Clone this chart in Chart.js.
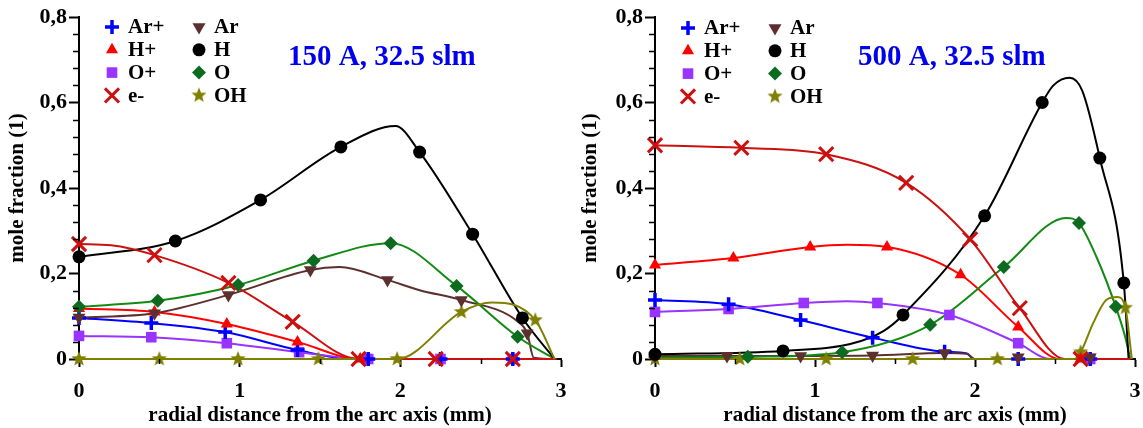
<!DOCTYPE html>
<html>
<head>
<meta charset="utf-8">
<script src="https://cdn.jsdelivr.net/npm/chart.js@4.4.0/dist/chart.umd.min.js"></script>
<style>
  html, body { margin: 0; padding: 0; background: #fff; }
  #wrap { position: relative; width: 1143px; height: 428px; overflow: hidden; }
  canvas { position: absolute; top: 0; }
  #c150 { left: 0; }
  #c500 { left: 571px; }
</style>
</head>
<body>
<div id="wrap">
  <canvas id="c150" width="571" height="428"></canvas>
  <canvas id="c500" width="572" height="428"></canvas>
</div>
<script>
// ---- axis ticks ----
const xTicks = [0, 1, 2, 3];
const xMinorTicks = [0.5, 1.5, 2.5];
const yTicks = [0, 0.2, 0.4, 0.6, 0.8];
const yMinorTicks = [0.04, 0.08, 0.12, 0.16, 0.24, 0.28, 0.32, 0.36, 0.44, 0.48, 0.52, 0.56, 0.64, 0.68, 0.72, 0.76];

const speciesNames = ['Ar+', 'H+', 'O+', 'e-', 'Ar', 'H', 'O', 'OH'];

// ---- 150 A, 32.5 slm : [radial distance (mm), mole fraction] ----
const arIonLine150 = [[0,0.096],[0.45,0.084],[0.91,0.063],[1.36,0.021],[1.7,0],[2.97,0]];
const arIonMarks150 = [[0,0.096],[0.45,0.084],[0.91,0.063],[1.36,0.021],[1.8,0],[2.25,0],[2.7,0]];
const hIonLine150 = [[0,0.118],[0.47,0.11],[0.92,0.082],[1.36,0.04],[1.75,0],[2.97,0]];
const hIonMarks150 = [[0,0.118],[0.47,0.11],[0.92,0.082],[1.36,0.04],[1.75,0]];
const oIonLine150 = [[0,0.054],[0.45,0.051],[0.92,0.037],[1.37,0.016],[1.8,0],[2.97,0]];
const oIonMarks150 = [[0,0.054],[0.45,0.051],[0.92,0.037],[1.37,0.016],[1.8,0],[2.25,0],[2.7,0]];
const elecLine150 = [[0,0.269],[0.2,0.266],[0.47,0.243],[0.93,0.178],[1.33,0.087],[1.74,0],[2.97,0]];
const elecMarks150 = [[0,0.269],[0.47,0.243],[0.93,0.178],[1.33,0.087],[1.74,0],[2.22,0],[2.7,0]];
const arLine150 = [[0,0.097],[0.47,0.107],[0.93,0.15],[1.44,0.208],[1.62,0.215],[1.92,0.185],[2.12,0.161],[2.38,0.138],[2.73,0.088],[2.79,0.06],[2.83,0.003],[2.97,0]];
const arMarks150 = [[0,0.097],[0.47,0.107],[0.93,0.15],[1.44,0.208],[1.92,0.185],[2.38,0.138],[2.79,0.06]];
const hLine150 = [[0,0.239],[0.6,0.276],[1.13,0.372],[1.63,0.496],[1.97,0.545],[2.12,0.484],[2.45,0.292],[2.76,0.096],[2.96,0]];
const hMarks150 = [[0,0.239],[0.6,0.276],[1.13,0.372],[1.63,0.496],[2.12,0.484],[2.45,0.292],[2.76,0.096]];
const oLine150 = [[0,0.122],[0.49,0.136],[0.99,0.173],[1.46,0.23],[1.94,0.271],[2.35,0.171],[2.73,0.052],[2.96,0]];
const oMarks150 = [[0,0.122],[0.49,0.136],[0.99,0.173],[1.46,0.23],[1.94,0.271],[2.35,0.171],[2.73,0.052]];
const ohLine150 = [[0,0],[1.98,0],[2.38,0.11],[2.57,0.132],[2.84,0.091],[2.96,0]];
const ohMarks150 = [[0,0],[0.5,0],[0.99,0],[1.49,0],[1.98,0],[2.38,0.11],[2.84,0.091]];

// ---- 500 A, 32.5 slm ----
const arIonLine500 = [[0,0.138],[0.46,0.128],[0.91,0.091],[1.36,0.05],[1.81,0.017],[1.95,0.013],[1.99,0],[2.97,0]];
const arIonMarks500 = [[0,0.138],[0.46,0.128],[0.91,0.091],[1.36,0.05],[1.81,0.017],[2.27,0],[2.72,0]];
const hIonLine500 = [[0,0.22],[0.49,0.236],[0.97,0.262],[1.2,0.267],[1.45,0.262],[1.91,0.197],[2.27,0.075],[2.53,0],[2.97,0]];
const hIonMarks500 = [[0,0.22],[0.49,0.236],[0.97,0.262],[1.45,0.262],[1.91,0.197],[2.27,0.075],[2.66,0]];
const oIonLine500 = [[0,0.11],[0.46,0.117],[0.93,0.131],[1.2,0.135],[1.39,0.131],[1.84,0.103],[2.27,0.037],[2.47,0],[2.97,0]];
const oIonMarks500 = [[0,0.11],[0.46,0.117],[0.93,0.131],[1.39,0.131],[1.84,0.103],[2.27,0.037],[2.72,0]];
const elecLine500 = [[0,0.5],[0.54,0.494],[1.07,0.479],[1.57,0.412],[1.97,0.28],[2.28,0.119],[2.56,0],[2.97,0]];
const elecMarks500 = [[0,0.5],[0.54,0.494],[1.07,0.479],[1.57,0.412],[1.97,0.28],[2.28,0.119],[2.66,0]];
const arLine500 = [[0,0.007],[0.91,0.007],[1.36,0.008],[1.81,0.014],[1.95,0.012],[2.0,0],[2.97,0]];
const arMarks500 = [[0,0.007],[0.45,0.007],[0.91,0.007],[1.36,0.008],[1.81,0.014],[2.27,0.004],[2.72,0.004]];
const hLine500 = [[0,0.011],[0.8,0.019],[1.22,0.035],[1.43,0.066],[1.55,0.103],[2.06,0.335],[2.42,0.6],[2.49,0.64],[2.59,0.658],[2.67,0.628],[2.78,0.47],[2.93,0.178],[2.96,0]];
const hMarks500 = [[0,0.011],[0.8,0.019],[1.55,0.103],[2.06,0.335],[2.42,0.6],[2.78,0.47],[2.93,0.178]];
const oLine500 = [[0,0.003],[0.58,0.005],[1.17,0.016],[1.72,0.08],[2.18,0.215],[2.57,0.33],[2.65,0.318],[2.76,0.238],[2.88,0.122],[2.94,0.05],[2.97,0]];
const oMarks500 = [[0.58,0.005],[1.17,0.016],[1.72,0.08],[2.18,0.215],[2.65,0.318],[2.88,0.122]];
const ohLine500 = [[0,0],[2.62,0],[2.66,0.016],[2.74,0.085],[2.82,0.138],[2.89,0.145],[2.94,0.12],[2.98,0]];
const ohMarks500 = [[0,0],[0.53,0],[1.07,0],[1.61,0],[2.14,0],[2.66,0.016],[2.94,0.12]];

// ---- styling ----
const SERIF = '"Liberation Serif", "Times New Roman", serif';

function makeStar(color, outer, inner) {
  const size = Math.ceil(outer * 2 + 2);
  const c = document.createElement('canvas');
  c.width = size; c.height = size;
  const g = c.getContext('2d');
  g.translate(size / 2, size / 2);
  g.beginPath();
  for (let i = 0; i < 10; i++) {
    const a = -Math.PI / 2 + i * Math.PI / 5;
    const rr = i % 2 ? inner : outer;
    g.lineTo(rr * Math.cos(a), rr * Math.sin(a));
  }
  g.closePath();
  g.fillStyle = color;
  g.fill();
  return c;
}

const styles = {
  'Ar+': { line: '#0000ff', fill: '#0000ff', point: 'cross',    r: 7,   bw: 3.5, rot: 0,   lineOrder: 17, markOrder: 6 },
  'H+':  { line: '#ff0000', fill: '#ff0000', point: 'triangle', r: 7,   bw: 0,   rot: 0,   lineOrder: 15, markOrder: 5 },
  'O+':  { line: '#9933ff', fill: '#9933ff', point: 'rect',     r: 7.5, bw: 0,   rot: 0,   lineOrder: 16, markOrder: 7 },
  'e-':  { line: '#cc1010', fill: '#cc1010', point: 'crossRot', r: 10,  bw: 3,   rot: 0,   lineOrder: 11, markOrder: 1 },
  'Ar':  { line: '#5e2f2f', fill: '#5e2f2f', point: 'triangle', r: 7.5, bw: 0,   rot: 180, lineOrder: 14, markOrder: 4 },
  'H':   { line: '#000000', fill: '#000000', point: 'circle',   r: 6.5, bw: 0,   rot: 0,   lineOrder: 12, markOrder: 2 },
  'O':   { line: '#138a13', fill: '#0d6b20', point: 'rectRot',  r: 7,   bw: 0,   rot: 0,   lineOrder: 13, markOrder: 3 },
  'OH':  { line: '#808000', fill: '#808000', point: makeStar('#808000', 8, 3.4), r: 8, bw: 0, rot: 0, lineOrder: 10, markOrder: 8 }
};

const toXY = arr => arr.map(p => ({ x: p[0], y: p[1] }));

function buildDatasets(lines, marks) {
  const ds = [];
  speciesNames.forEach((name, i) => {
    const st = styles[name];
    ds.push({
      label: name,
      data: toXY(lines[i]),
      borderColor: st.line,
      backgroundColor: st.line,
      borderWidth: 2,
      pointRadius: 0,
      pointHoverRadius: 0,
      cubicInterpolationMode: 'monotone',
      fill: false,
      clip: false,
      order: st.lineOrder
    });
    ds.push({
      label: name + ' markers',
      data: toXY(marks[i]),
      showLine: false,
      pointStyle: st.point,
      pointRadius: st.r,
      pointHoverRadius: st.r,
      pointRotation: st.rot,
      pointBackgroundColor: st.fill,
      pointBorderColor: st.fill,
      pointBorderWidth: st.bw,
      clip: false,
      order: st.markOrder
    });
  });
  return ds;
}

// minor tick marks on both axes
const minorTicks = {
  id: 'minorTicks',
  afterDraw(chart) {
    const { ctx, chartArea, scales } = chart;
    ctx.save();
    ctx.strokeStyle = '#000';
    ctx.lineWidth = 1.5;
    ctx.beginPath();
    yMinorTicks.forEach(v => {
      const py = Math.round(scales.y.getPixelForValue(v)) + 0.5;
      ctx.moveTo(chartArea.left - 6, py);
      ctx.lineTo(chartArea.left, py);
    });
    xMinorTicks.forEach(v => {
      const px = Math.round(scales.x.getPixelForValue(v)) + 0.5;
      ctx.moveTo(px, chartArea.bottom);
      ctx.lineTo(px, chartArea.bottom + 5);
    });
    ctx.stroke();
    ctx.restore();
  }
};

// in-plot legend (two columns) and panel heading
const panelDecor = {
  id: 'panelDecor',
  afterDraw(chart, args, opts) {
    const { ctx, chartArea } = chart;
    const L = chartArea.left;
    ctx.save();
    ctx.font = 'bold 21px ' + SERIF;
    ctx.textBaseline = 'middle';
    ctx.textAlign = 'left';
    speciesNames.forEach((name, i) => {
      const st = styles[name];
      const col = Math.floor(i / 4), row = i % 4;
      const y = opts.legendTop + row * opts.legendStep;
      const mx = L + (col ? 120 : 33);
      const tx = L + (col ? 135 : 49);
      ctx.save();
      ctx.fillStyle = st.fill;
      ctx.strokeStyle = st.fill;
      ctx.lineWidth = st.bw;
      Chart.helpers.drawPoint(ctx, { pointStyle: st.point, rotation: st.rot, radius: st.r, borderWidth: st.bw }, mx, y);
      ctx.restore();
      ctx.fillStyle = '#000';
      ctx.fillText(name, tx, y + 1);
    });
    ctx.font = 'bold 29px ' + SERIF;
    ctx.fillStyle = '#0000ee';
    ctx.textBaseline = 'alphabetic';
    ctx.fillText(opts.heading, L + opts.headingDx, opts.headingY);
    ctx.restore();
  }
};

function makeChart(id, lines, marks, axisWidth, rightGap, yTitlePad, heading, headingDx, legendTop) {
  const tickFont = { family: SERIF, size: 22, weight: 'bold' };
  const titleFont = { family: SERIF, size: 21, weight: 'bold' };
  return new Chart(document.getElementById(id), {
    type: 'line',
    data: { datasets: buildDatasets(lines, marks) },
    plugins: [minorTicks, panelDecor],
    options: {
      responsive: false,
      animation: false,
      events: [],
      layout: { autoPadding: false, padding: { top: 17, right: 0, bottom: 0, left: 0 } },
      plugins: {
        legend: { display: false },
        tooltip: { enabled: false },
        panelDecor: { heading: heading, headingDx: headingDx, headingY: 65, legendTop: legendTop, legendStep: 22.8 }
      },
      scales: {
        x: {
          type: 'linear',
          min: 0, max: 3,
          afterBuildTicks: s => { s.ticks = xTicks.map(v => ({ value: v })); },
          afterFit: s => { s.height = 69; s.paddingLeft = 0; s.paddingRight = rightGap; },
          ticks: { font: tickFont, color: '#000', padding: 11, maxRotation: 0, callback: v => String(v) },
          grid: { drawOnChartArea: false, drawTicks: true, tickLength: 8, tickWidth: 2, tickColor: '#000', color: '#000' },
          border: { display: true, color: '#000', width: 2 },
          title: { display: true, text: 'radial distance from the arc axis (mm)', font: titleFont, color: '#000', padding: { top: 0, bottom: 0 } }
        },
        y: {
          type: 'linear',
          min: 0, max: 0.8,
          afterBuildTicks: s => { s.ticks = yTicks.map(v => ({ value: v })); },
          afterFit: s => { s.width = axisWidth; },
          ticks: { font: tickFont, color: '#000', padding: 2, callback: v => v === 0 ? '0' : v.toFixed(1).replace('.', ',') },
          grid: { drawOnChartArea: false, drawTicks: true, tickLength: 10, tickWidth: 2, tickColor: '#000', color: '#000' },
          border: { display: true, color: '#000', width: 2 },
          title: { display: true, text: 'mole fraction (1)', font: titleFont, color: '#000', padding: { top: yTitlePad, bottom: 0 } }
        }
      }
    }
  });
}

makeChart('c150',
  [arIonLine150, hIonLine150, oIonLine150, elecLine150, arLine150, hLine150, oLine150, ohLine150],
  [arIonMarks150, hIonMarks150, oIonMarks150, elecMarks150, arMarks150, hMarks150, oMarks150, ohMarks150],
  79, 10, 5, '150 A, 32.5 slm', 209, 27);

makeChart('c500',
  [arIonLine500, hIonLine500, oIonLine500, elecLine500, arLine500, hLine500, oLine500, ohLine500],
  [arIonMarks500, hIonMarks500, oIonMarks500, elecMarks500, arMarks500, hMarks500, oMarks500, ohMarks500],
  84, 8, 7, '500 A, 32.5 slm', 203, 28);
</script>
</body>
</html>
